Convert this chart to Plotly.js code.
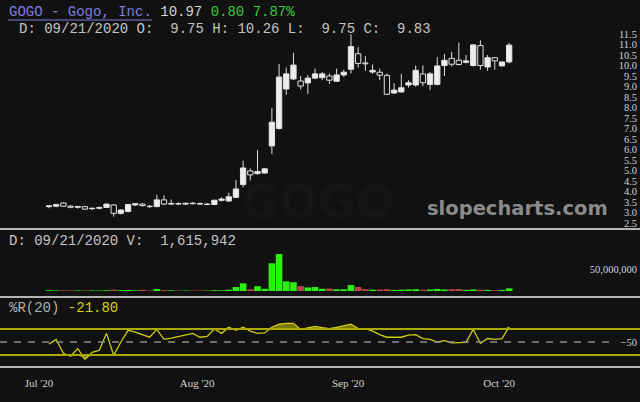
<!DOCTYPE html>
<html><head><meta charset="utf-8">
<script src="https://cdn.plot.ly/plotly-3.0.1.min.js"></script>
<style>html,body{margin:0;padding:0;background:#111111;}#chart{width:640px;height:402px;}</style>
</head><body><div id="chart"></div>
<script>
const dates = [
"2020-07-01","2020-07-02","2020-07-06","2020-07-07","2020-07-08","2020-07-09","2020-07-10","2020-07-13","2020-07-14","2020-07-15",
"2020-07-16","2020-07-17","2020-07-20","2020-07-21","2020-07-22","2020-07-23","2020-07-24","2020-07-27","2020-07-28","2020-07-29",
"2020-07-30","2020-07-31","2020-08-03","2020-08-04","2020-08-05","2020-08-06","2020-08-07","2020-08-10","2020-08-11","2020-08-12",
"2020-08-13","2020-08-14","2020-08-17","2020-08-18","2020-08-19","2020-08-20","2020-08-21","2020-08-24","2020-08-25","2020-08-26",
"2020-08-27","2020-08-28","2020-08-31","2020-09-01","2020-09-02","2020-09-03","2020-09-04","2020-09-08","2020-09-09","2020-09-10",
"2020-09-11","2020-09-14","2020-09-15","2020-09-16","2020-09-17","2020-09-18","2020-09-21","2020-09-22","2020-09-23","2020-09-24",
"2020-09-25","2020-09-28","2020-09-29","2020-09-30","2020-10-01"];

const openP = [3.28,3.30,3.45,3.30,3.25,3.28,3.18,3.20,3.24,3.36,
2.96,3.05,3.36,3.40,3.30,3.28,3.60,3.40,3.42,3.40,
3.44,3.42,3.38,3.38,3.58,3.55,3.72,4.33,4.98,4.85,
4.88,6.17,7.00,8.88,9.36,9.26,9.17,9.40,9.42,9.50,
9.25,9.55,9.82,10.56,10.12,9.69,9.68,9.53,8.69,8.74,
9.07,9.07,9.60,9.10,9.10,10.00,10.34,10.25,10.15,10.00,
10.95,9.93,10.37,9.98,10.17];
const highP = [3.35,3.42,3.48,3.35,3.32,3.30,3.25,3.28,3.42,3.38,
3.14,3.40,3.45,3.44,3.36,3.84,3.82,3.62,3.48,3.46,
3.50,3.48,3.45,3.62,3.72,3.95,4.55,5.47,5.10,5.98,
5.12,7.98,10.07,9.90,10.60,9.50,9.55,9.85,9.70,9.62,
9.85,9.80,11.49,10.87,10.45,10.05,9.85,9.62,9.15,9.60,
9.30,10.00,10.00,9.70,10.40,10.55,10.65,11.09,10.50,11.00,
11.20,10.50,10.40,10.10,11.07];
const lowP = [3.20,3.25,3.28,3.20,3.18,3.12,3.12,3.15,3.22,2.80,
2.90,3.00,3.30,3.28,3.22,3.25,3.35,3.35,3.35,3.36,
3.38,3.36,3.35,3.35,3.52,3.50,3.70,4.20,4.53,4.80,
4.85,5.78,6.95,8.60,9.30,8.86,8.64,9.35,9.30,9.12,
9.22,9.45,9.62,9.90,9.75,9.60,9.30,8.60,8.65,8.70,
8.95,9.00,9.02,8.83,9.05,9.50,9.95,10.00,10.10,9.95,
9.80,9.75,9.80,9.95,10.10];
const closeP = [3.32,3.38,3.30,3.25,3.28,3.16,3.20,3.24,3.40,2.96,
3.12,3.38,3.42,3.33,3.28,3.60,3.40,3.43,3.40,3.44,
3.42,3.40,3.40,3.58,3.64,3.75,4.12,5.12,4.79,4.95,
5.08,7.30,9.45,9.60,10.02,9.02,9.40,9.60,9.60,9.30,
9.55,9.68,10.90,10.10,10.08,9.77,9.54,8.63,8.83,8.94,
9.18,9.77,9.18,9.60,9.98,10.25,10.06,10.05,10.22,10.98,
10.00,10.37,10.22,10.17,10.97];
const volume = [1800000,1500000,1600000,1200000,1300000,1400000,1200000,1100000,1800000,3200000,
2000000,2400000,1600000,2800000,1200000,4500000,2200000,1500000,1000000,1100000,
1000000,1200000,1000000,1800000,1600000,3000000,9000000,17500000,4000000,11000000,
5000000,63000000,84000000,22000000,20000000,11000000,8000000,9000000,5000000,5500000,
4000000,4000000,13500000,9000000,4000000,3000000,3500000,4000000,2500000,3000000,
3500000,4000000,3000000,3500000,4500000,3500000,4000000,4500000,2500000,3500000,
3000000,2500000,2000000,2500000,6000000];
const williamsR = [-55,-44,-76,-83,-65,-90,-74,-69,-30,-81,
-50,-23,-27,-33,-39,-21,-44,-41,-37,-34,
-30,-39,-37,-20,-30,-16,-23,-16,-25,-30,
-29,-16,-9,-7,-7,-21,-17,-14,-17,-19,
-16,-12,-9,-19,-19,-25,-33,-39,-39,-39,
-34,-33,-42,-44,-50,-47,-52,-51,-51,-21,
-53,-42,-44,-42,-15];

const priceTicks = [2.5,3.0,3.5,4.0,4.5,5.0,5.5,6.0,6.5,7.0,7.5,8.0,8.5,9.0,9.5,10.0,10.5,11.0,11.5];
const volumeTicks = [50000000];
const wrTicks = [-50];
const monthLabels = ["Jul '20","Aug '20","Sep '20","Oct '20"];
const wrUpper = -20, wrLower = -80, wrMid = -50;

// geometry (pixels)
const W = 640, PH = 367;
const py = p => 1 - p / PH;
const idx = dates.map((d, i) => i);

const monthStarts = [];
dates.forEach((d, i) => { if (i === 0 || d.slice(0, 7) !== dates[i - 1].slice(0, 7)) monthStarts.push(i); });
const tickPos = monthStarts.map(i => i - 1.4);

const isUp = closeP.map((c, i) => c >= openP[i]);
const volColors = isUp.map(u => u ? '#2cf010' : '#b84848');

// candle bodies (bars from min(open,close) to max(open,close)) and wicks
const bodyBase = openP.map((o, i) => Math.min(o, closeP[i]));
const bodySize = openP.map((o, i) => Math.max(Math.abs(closeP[i] - o), 0.02));
const wickX = [], wickY = [];
idx.forEach(i => {
  const top = Math.max(openP[i], closeP[i]), bot = Math.min(openP[i], closeP[i]);
  wickX.push(i, i, null, i, i, null);
  wickY.push(highP[i], top, null, bot, lowP[i], null);
});

const serif = {family: 'Liberation Serif, serif', size: 10.5, color: '#d2d2d2'};

const traces = [
  {type: 'scatter', mode: 'lines', x: wickX, y: wickY, xaxis: 'x', yaxis: 'y',
   line: {color: '#dcdcdc', width: 1}, hoverinfo: 'skip', connectgaps: false},
  {type: 'bar', x: idx, y: bodySize, base: bodyBase, xaxis: 'x', yaxis: 'y', width: 0.74,
   marker: {color: isUp.map(u => u ? '#ededed' : '#111111'), line: {color: '#e2e2e2', width: 1}}, hoverinfo: 'skip'},
  {type: 'bar', x: idx, y: volume, xaxis: 'x', yaxis: 'y2', width: 0.92,
   marker: {color: volColors, line: {width: 0}}, hoverinfo: 'skip'},
  {type: 'scatter', mode: 'lines', x: idx, y: williamsR.map(() => wrUpper), xaxis: 'x', yaxis: 'y3',
   line: {width: 0, color: 'rgba(0,0,0,0)'}, hoverinfo: 'skip'},
  {type: 'scatter', mode: 'lines', x: idx, y: williamsR.map(v => Math.max(v, wrUpper)), xaxis: 'x', yaxis: 'y3',
   line: {width: 0, color: 'rgba(0,0,0,0)'}, fill: 'tonexty', fillcolor: 'rgba(190,190,0,0.6)', hoverinfo: 'skip'},
  {type: 'scatter', mode: 'lines', x: idx, y: williamsR.map(() => wrLower), xaxis: 'x', yaxis: 'y3',
   line: {width: 0, color: 'rgba(0,0,0,0)'}, hoverinfo: 'skip'},
  {type: 'scatter', mode: 'lines', x: idx, y: williamsR.map(v => Math.min(v, wrLower)), xaxis: 'x', yaxis: 'y3',
   line: {width: 0, color: 'rgba(0,0,0,0)'}, fill: 'tonexty', fillcolor: 'rgba(190,190,0,0.6)', hoverinfo: 'skip'},
  {type: 'scatter', mode: 'lines', x: idx, y: williamsR, xaxis: 'x', yaxis: 'y3',
   line: {width: 1.3, color: '#cccc10'}, hoverinfo: 'skip'}
];

const axisBase = {showgrid: false, zeroline: false, showline: false, ticks: '', fixedrange: true};

const layout = {
  width: 640, height: 402,
  margin: {l: 0, r: 0, t: 0, b: 35},
  paper_bgcolor: '#111111', plot_bgcolor: '#111111',
  showlegend: false, hovermode: false, barmode: 'overlay',
  xaxis: Object.assign({}, axisBase, {
    range: [-49 / 7.19, (W - 49) / 7.19], anchor: 'y3',
    tickmode: 'array', tickvals: tickPos, ticktext: monthLabels,
    tickfont: {family: 'Liberation Serif, serif', size: 11, color: '#d2d2d2'},
    ticklabelstandoff: 8
  }),
  yaxis: Object.assign({}, axisBase, {
    domain: [py(229), 1], range: [2.214, 13.119], side: 'right', anchor: 'x',
    tickmode: 'array', tickvals: priceTicks, tickformat: '.1f',
    ticklabelposition: 'inside', tickfont: serif
  }),
  yaxis2: Object.assign({}, axisBase, {
    domain: [py(297), py(229)], range: [-13.6e6, 140.9e6], side: 'right', anchor: 'x',
    tickmode: 'array', tickvals: volumeTicks, tickformat: ',d',
    ticklabelposition: 'inside', tickfont: serif
  }),
  yaxis3: Object.assign({}, axisBase, {
    domain: [0, py(297)], range: [-107.7, 53.85], side: 'right', anchor: 'x',
    tickmode: 'array', tickvals: wrTicks,
    ticklabelposition: 'inside', tickfont: serif
  }),
  shapes: [
    {type: 'line', xref: 'paper', yref: 'paper', x0: 0, x1: 1, y0: py(229), y1: py(229), line: {color: '#b4b4b4', width: 2}},
    {type: 'line', xref: 'paper', yref: 'paper', x0: 0, x1: 1, y0: py(297), y1: py(297), line: {color: '#b4b4b4', width: 2}},
    {type: 'line', xref: 'paper', yref: 'paper', x0: 0, x1: 1, y0: py(367), y1: py(367), line: {color: '#b4b4b4', width: 2}},
    {type: 'line', xref: 'paper', yref: 'paper', x0: 8 / W, x1: 152 / W, y0: py(20), y1: py(20), line: {color: '#7d7de0', width: 1}},
    {type: 'line', xref: 'paper', yref: 'y3', x0: 0, x1: 1, y0: wrUpper, y1: wrUpper, line: {color: '#a9a900', width: 2}},
    {type: 'line', xref: 'paper', yref: 'y3', x0: 0, x1: 1, y0: wrLower, y1: wrLower, line: {color: '#a9a900', width: 2}},
    {type: 'line', xref: 'paper', yref: 'y3', x0: 0, x1: 0.955, y0: wrMid, y1: wrMid, line: {color: '#8c8c8c', width: 1.5, dash: '7px,7px'}}
  ],
  annotations: [
    {xref: 'paper', yref: 'paper', x: 318 / W, y: py(202), xanchor: 'center', yanchor: 'middle', text: 'GOGO', showarrow: false,
     font: {family: 'DejaVu Sans, sans-serif', size: 46, color: '#151515', weight: 'bold'}},
    {xref: 'paper', yref: 'paper', x: 517 / W, y: py(208), xanchor: 'center', yanchor: 'middle', text: 'slopecharts.com', showarrow: false,
     font: {family: 'DejaVu Sans, sans-serif', size: 19.5, color: '#8a8a8a', weight: 'bold'}},
    {xref: 'paper', yref: 'paper', x: 7 / W, y: py(12), xanchor: 'left', yanchor: 'middle', showarrow: false,
     text: '<span style="color:#7d7de0">GOGO - Gogo, Inc.</span> <span style="color:#d4d4d4">10.97</span> <span style="color:#3cc83c">0.80 7.87%</span>',
     font: {family: 'Liberation Mono, monospace', size: 14, color: '#d4d4d4'}},
    {xref: 'paper', yref: 'paper', x: 17 / W, y: py(29), xanchor: 'left', yanchor: 'middle', showarrow: false,
     text: 'D: 09/21/2020 O:  9.75 H: 10.26 L:  9.75 C:  9.83',
     font: {family: 'Liberation Mono, monospace', size: 14, color: '#c4c4c4'}},
    {xref: 'paper', yref: 'paper', x: 7 / W, y: py(241), xanchor: 'left', yanchor: 'middle', showarrow: false,
     text: 'D: 09/21/2020 V:  1,615,942',
     font: {family: 'Liberation Mono, monospace', size: 14, color: '#c4c4c4'}},
    {xref: 'paper', yref: 'paper', x: 7 / W, y: py(308), xanchor: 'left', yanchor: 'middle', showarrow: false,
     text: '<span style="color:#b0b0b0">%R(20)</span> <span style="color:#d4d400">-21.80</span>',
     font: {family: 'Liberation Mono, monospace', size: 14, color: '#b0b0b0'}}
  ]
};

Plotly.newPlot('chart', traces, layout, {staticPlot: true, displayModeBar: false});
</script>
</body></html>
